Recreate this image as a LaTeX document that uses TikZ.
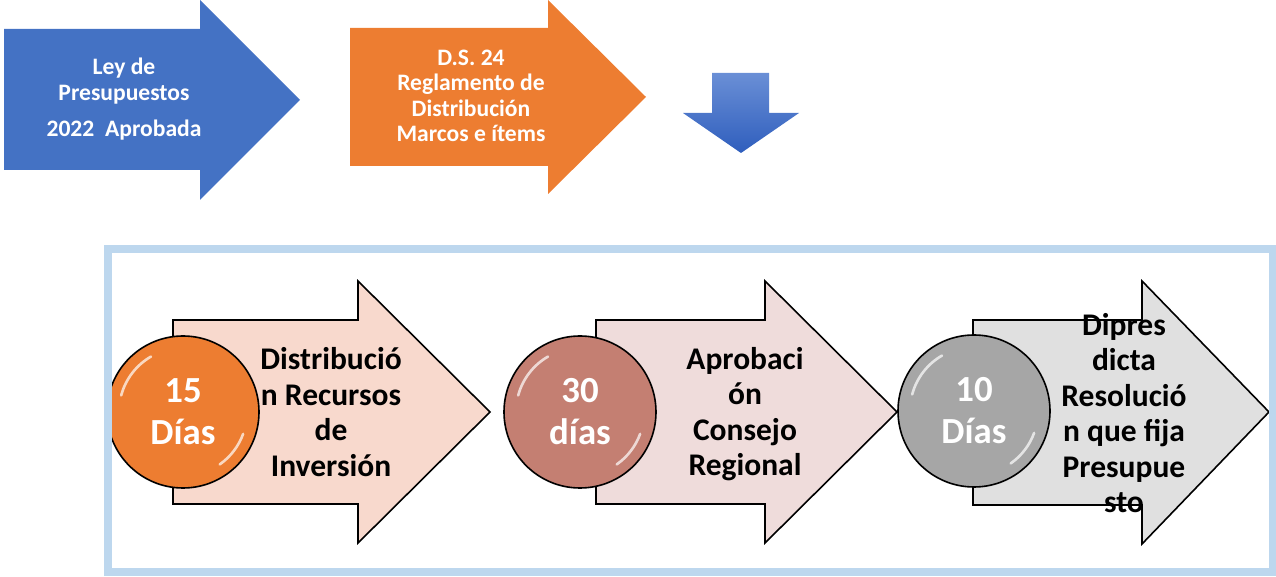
\documentclass[tikz,border=0pt]{standalone}
\usepackage{fontspec}
\setmainfont{Carlito}
\usetikzlibrary{positioning}

\definecolor{leyblue}{HTML}{4472C4}
\definecolor{dsorange}{HTML}{ED7D31}
\definecolor{framebl}{HTML}{BDD7EE}
\definecolor{downtop}{HTML}{6A8FD6}
\definecolor{downbot}{HTML}{2F5EBD}
\definecolor{fillA}{HTML}{F8D9CD}
\definecolor{fillB}{HTML}{EFDCDB}
\definecolor{fillC}{HTML}{E0E0E0}
\definecolor{dotA}{HTML}{ED7D31}
\definecolor{dotB}{HTML}{C47F72}
\definecolor{dotC}{HTML}{A6A6A6}

\tikzset{
  toptext/.style={align=center,text=white,font=\bfseries\fontsize{11.8}{13}\selectfont},
  stagearrow/.style={draw=black,line width=0.8pt,line join=miter},
  stagetext/.style={align=center,font=\bfseries\fontsize{15.75}{17.75}\selectfont},
  daydot/.style={circle,draw=black,line width=0.8pt,minimum size=76pt,inner sep=0pt,
                 align=center,text=white,font=\bfseries\fontsize{18.4}{21}\selectfont},
  glint/.style={white,opacity=.7,line width=1.3pt,line cap=round}
}

\begin{document}
\begin{tikzpicture}[x=0.5pt,y=-0.5pt]
  \useasboundingbox (0,0) rectangle (1276,577);

  % top row
  \fill[leyblue] (4,29) -- (200,29) -- (200,0) -- (300,100) -- (200,200)
                 -- (200,170) -- (4,170) -- cycle;
  \node[toptext] (ley) at (124,99) {Ley de\\Presupuestos\\[5pt]2022~~Aprobada};

  \fill[dsorange] (350,28) -- (548,28) -- (548,0) -- (646,97) -- (548,194)
                  -- (548,166) -- (350,166) -- cycle;
  \node[toptext,font=\bfseries\fontsize{11.8}{12.75}\selectfont] (ds) at (471,96)
       {D.S. 24\\Reglamento de\\Distribución\\Marcos e ítems};

  \shade[top color=downtop,bottom color=downbot]
        (712,73) -- (769,73) -- (769,113) -- (799,113) -- (741,153)
        -- (683,113) -- (712,113) -- cycle;

  % lower row: stage arrows
  \draw[stagearrow,fill=fillA] (173,320) -- (358,320) -- (358,281) -- (490,412)
        -- (358,543) -- (358,504) -- (173,504) -- cycle;
  \draw[stagearrow,fill=fillB] (596,320) -- (765,320) -- (765,281) -- (897,412)
        -- (765,543) -- (765,504) -- (596,504) -- cycle;
  \draw[stagearrow,fill=fillC] (973,320) -- (1142,320) -- (1142,281) -- (1269,412)
        -- (1142,544) -- (1142,505) -- (973,505) -- cycle;

  % day circles
  \node[daydot,fill=dotA] (d15) at (183,412) {15\\Días};
  \node[daydot,fill=dotB] (d30) at (580,412) {30\\días};
  \node[daydot,fill=dotC] (d10) at (974,411) {10\\Días};
  \foreach \c in {d15,d30,d10}{
    \draw[glint] ([shift={(120:32pt)}]\c.center) arc[start angle=120,end angle=165,radius=32pt];
    \draw[glint] ([shift={(-20:32pt)}]\c.center) arc[start angle=-20,end angle=-55,radius=32pt];
  }

  % stage texts
  \node[stagetext] (distrib) at (331,412) {Distribució\\n Recursos\\de\\Inversión};
  \node[stagetext] (aprob) at (745,414) {Aprobaci\\ón\\Consejo\\Regional};
  \node[stagetext] (dipres) at (1124,413)
       {Dipres\\dicta\\Resolució\\n que fija\\Presupue\\sto};

  % frame
  \draw[framebl,line width=4pt] (107.5,249.5) rectangle (1272.5,572);
\end{tikzpicture}
\end{document}
